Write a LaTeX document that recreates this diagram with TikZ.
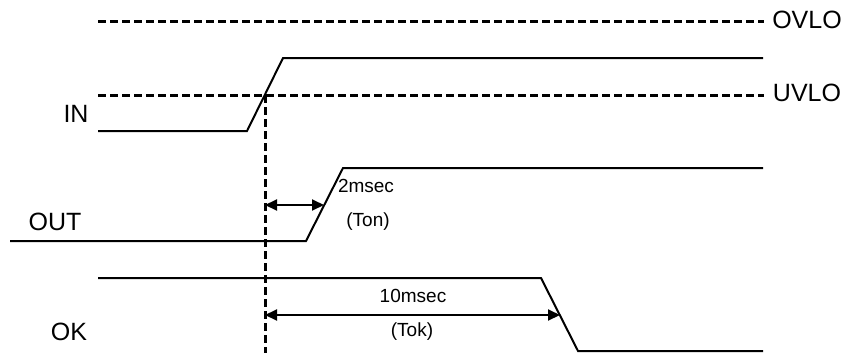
\documentclass[tikz,border=0pt]{standalone}
\usepackage{fontspec}
\setmainfont{Liberation Sans}
\usetikzlibrary{arrows.meta}

\tikzset{
	level/.style={line width=3pt, dash pattern=on 8pt off 4pt},
	wave/.style={line width=2pt, line join=miter},
	span/.style={line width=2pt, {Triangle[length=12pt,width=11pt]}-{Triangle[length=12pt,width=11pt]}},
	biglabel/.style={font=\fontsize{25pt}{30pt}\selectfont, inner sep=0pt},
	smalllabel/.style={font=\fontsize{19pt}{23pt}\selectfont, inner sep=0pt}
}

\begin{document}
\begin{tikzpicture}[x=1pt,y=-1pt]
	\useasboundingbox (0,0) rectangle (848,356);
	% threshold levels
	\draw[level] (98,21) -- (764,21);
	\draw[level] (98,95) -- (764,95);
	\node[biglabel] (ovlo) at (807,20) {OVLO};
	\node[biglabel] (uvlo) at (807,93) {UVLO};
	% signals
	\draw[wave] (98,131) -- (247,131) -- (283,58) -- (763,58);
	\node[biglabel] (in) at (76,114) {IN};
	\draw[wave] (10,241) -- (306,241) -- (343,168) -- (763,168);
	\node[biglabel] (out) at (55,222) {OUT};
	\draw[wave] (98,278) -- (541,278) -- (578,351) -- (763,351);
	\node[biglabel] (ok) at (69,332) {OK};
	% crossing of IN with UVLO
	\coordinate (cross) at (265,95);
	\coordinate (bottom) at (265,353);
	\draw[level] (cross) -- (bottom);
	% delays
	\coordinate (ton0) at (265,205);
	\coordinate (ton1) at (324,205);
	\draw[span] (ton0) -- (ton1);
	\node[smalllabel] (ton) at (366,186) {2msec};
	\node[smalllabel] (tonname) at (368,222) {(Ton)};
	\coordinate (tok0) at (265,315);
	\coordinate (tok1) at (560,315);
	\draw[span] (tok0) -- (tok1);
	\node[smalllabel] (tok) at (413,296) {10msec};
	\node[smalllabel] (tokname) at (412,332) {(Tok)};
\end{tikzpicture}
\end{document}
